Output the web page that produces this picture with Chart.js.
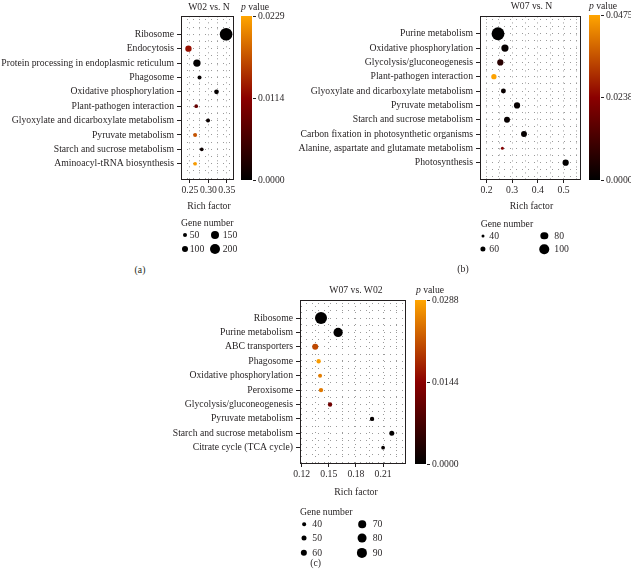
<!DOCTYPE html>
<html>
<head>
<meta charset="utf-8">
<script src="https://cdn.jsdelivr.net/npm/chart.js@4.4.0/dist/chart.umd.min.js"></script>
<style>
    body { margin: 0; background: #fff; width: 631px; height: 579px; position: relative; overflow: hidden; font-family: 'Liberation Serif', 'Times New Roman', serif; color: #231f20; }
    canvas { position: absolute; }
    .t { position: absolute; font-size: 9.7px; line-height: 1; white-space: nowrap; }
    .c { transform: translate(-50%, -50%); }
    .l { transform: translate(0, -50%); }
    .cbar { position: absolute; background: linear-gradient(to top, #000000, #8b0000, #ffa500); }
    .tk { position: absolute; height: 1px; width: 3px; background: #231f20; }
    .dot { position: absolute; border-radius: 50%; background: #000; transform: translate(-50%, -50%); }
</style>
</head>
<body>
<canvas id="chartA" width="240" height="200" style="left:0px;top:10px"></canvas>
<canvas id="chartB" width="297" height="200" style="left:290px;top:10px"></canvas>
<canvas id="chartC" width="252" height="204" style="left:160px;top:290px"></canvas>
<script>
// (a) W02 vs. N
const pathwaysA = ['Ribosome', 'Endocytosis', 'Protein processing in endoplasmic reticulum', 'Phagosome',
    'Oxidative phosphorylation', 'Plant-pathogen interaction', 'Glyoxylate and dicarboxylate metabolism',
    'Pyruvate metabolism', 'Starch and sucrose metabolism', 'Aminoacyl-tRNA biosynthesis'];
const richA = [0.348, 0.246, 0.269, 0.276, 0.322, 0.267, 0.299, 0.264, 0.282, 0.264];
const genesA = [265, 108, 133, 50, 67, 42, 50, 50, 42, 42];
const pvalA = [0.0001, 0.0125, 0.0002, 0.0004, 0.0003, 0.0082, 0.0008, 0.0172, 0.0010, 0.0222];
const xTicksA = [0.25, 0.30, 0.35];
const xLabelsA = ['0.25', '0.30', '0.35'];
const pTicksA = [0, 0.0114, 0.0229];
const pLabelsA = ['0.0000', '0.0114', '0.0229'];
const geneLegendA = [50, 100, 150, 200];

// (b) W07 vs. N
const pathwaysB = ['Purine metabolism', 'Oxidative phosphorylation', 'Glycolysis/gluconeogenesis',
    'Plant-pathogen interaction', 'Glyoxylate and dicarboxylate metabolism', 'Pyruvate metabolism',
    'Starch and sucrose metabolism', 'Carbon fixation in photosynthetic organisms',
    'Alanine, aspartate and glutamate metabolism', 'Photosynthesis'];
const richB = [0.245, 0.272, 0.254, 0.229, 0.266, 0.319, 0.280, 0.346, 0.262, 0.508];
const genesB = [131, 79, 70, 61, 58, 70, 67, 67, 40, 70];
const pvalB = [0.0001, 0.0010, 0.0068, 0.0470, 0.0015, 0.0008, 0.0012, 0.0009, 0.0220, 0.0004];
const xTicksB = [0.2, 0.3, 0.4, 0.5];
const xLabelsB = ['0.2', '0.3', '0.4', '0.5'];
const pTicksB = [0, 0.0238, 0.0475];
const pLabelsB = ['0.0000', '0.0238', '0.0475'];
const geneLegendB = [40, 60, 80, 100];

// (c) W07 vs. W02
const pathwaysC = ['Ribosome', 'Purine metabolism', 'ABC transporters', 'Phagosome', 'Oxidative phosphorylation',
    'Peroxisome', 'Glycolysis/gluconeogenesis', 'Pyruvate metabolism', 'Starch and sucrose metabolism',
    'Citrate cycle (TCA cycle)'];
const richC = [0.1414, 0.1603, 0.135, 0.1388, 0.1404, 0.1414, 0.1514, 0.1978, 0.2196, 0.210];
const genesC = [104, 83, 58, 45, 42, 45, 45, 45, 50, 40];
const pvalC = [0.0001, 0.0002, 0.0207, 0.0280, 0.0253, 0.0250, 0.0115, 0.0005, 0.0003, 0.0006];
const xTicksC = [0.12, 0.15, 0.18, 0.21];
const xLabelsC = ['0.12', '0.15', '0.18', '0.21'];
const pTicksC = [0, 0.0144, 0.0288];
const pLabelsC = ['0.0000', '0.0144', '0.0288'];
const geneLegendC = [40, 50, 60, 70, 80, 90];

const SERIF = "'Liberation Serif', 'Times New Roman', serif";
const INK = '#231f20';
const GRID = '#9a9a9a';
const FONT_SIZE = 9.7;

// black -> darkred -> orange
const colorStops = [[0, 0, 0], [139, 0, 0], [255, 165, 0]];
function pColor(t) {
    t = Math.max(0, Math.min(1, t));
    const s = t * 2;
    const i = Math.min(1, Math.floor(s));
    const f = s - i;
    const a = colorStops[i], b = colorStops[i + 1];
    return 'rgb(' + a.map((v, k) => Math.round(v + (b[k] - v) * f)).join(',') + ')';
}

function sizeScale(n0, d0, n1, d1) {
    return n => d0 + (d1 - d0) * (n - n0) / (n1 - n0);
}

function gridSteps(min, max, step) {
    const out = [];
    for (let k = Math.ceil(min / step - 1e-9); k * step <= max + 1e-9; k++) out.push(+(k * step).toFixed(6));
    return out;
}

const framePlugin = {
    id: 'frame',
    afterDraw(chart) {
        const a = chart.chartArea;
        const ctx = chart.ctx;
        ctx.save();
        ctx.strokeStyle = INK;
        ctx.lineWidth = 1;
        ctx.strokeRect(Math.round(a.left) + 0.5, Math.round(a.top) + 0.5, Math.round(a.right - a.left) - 1, Math.round(a.bottom - a.top) - 1);
        ctx.restore();
    }
};

function addText(html, x, y, cls) {
    const el = document.createElement('div');
    el.className = 't ' + cls;
    el.style.left = x + 'px';
    el.style.top = y + 'px';
    el.innerHTML = html;
    document.body.appendChild(el);
}

function drawPanel(p) {
    const n = p.pathways.length;
    const size = p.size;
    const minor = (p.xTicks[1] - p.xTicks[0]) / 2;
    const isMajor = v => p.xTicks.some(t => Math.abs(t - v) < 1e-6);
    const isRow = v => Math.abs(v - Math.round(v)) < 1e-6 && v >= 1 && v <= n;

    new Chart(document.getElementById(p.id), {
        type: 'bubble',
        data: {
            datasets: [{
                data: p.pathways.map((name, i) => ({ x: p.rich[i], y: n - i, r: size(p.genes[i]) / 2 })),
                backgroundColor: p.pvals.map(v => pColor(v / p.pMax)),
                borderWidth: 0,
                hoverBorderWidth: 0,
                clip: false
            }]
        },
        options: {
            responsive: false,
            animation: false,
            devicePixelRatio: 1,
            events: [],
            layout: { padding: p.pad },
            plugins: { legend: { display: false }, tooltip: { enabled: false } },
            scales: {
                x: {
                    type: 'linear',
                    min: p.xMin,
                    max: p.xMax,
                    afterBuildTicks: s => { s.ticks = gridSteps(p.xMin, p.xMax, minor).map(v => ({ value: v })); },
                    afterFit: s => { s.height = 30; s.paddingLeft = 0; s.paddingRight = 0; },
                    ticks: {
                        autoSkip: false,
                        maxRotation: 0,
                        padding: 2,
                        color: INK,
                        font: { family: SERIF, size: FONT_SIZE },
                        callback: v => {
                            const k = p.xTicks.findIndex(t => Math.abs(t - v) < 1e-6);
                            return k < 0 ? '' : p.xLabels[k];
                        }
                    },
                    grid: { color: GRID, tickLength: 3, tickColor: c => isMajor(c.tick.value) ? INK : 'rgba(0,0,0,0)' },
                    border: { display: false, dash: [1, 5] }
                },
                y: {
                    type: 'linear',
                    min: p.yMin,
                    max: p.yMax,
                    afterBuildTicks: s => { s.ticks = gridSteps(p.yMin, p.yMax, 0.5).map(v => ({ value: v })); },
                    afterFit: s => { s.width = p.yWidth; s.paddingTop = 0; s.paddingBottom = 0; },
                    ticks: {
                        autoSkip: false,
                        padding: 3,
                        color: INK,
                        font: { family: SERIF, size: FONT_SIZE },
                        callback: v => isRow(v) ? p.pathways[n - Math.round(v)] : ''
                    },
                    grid: { color: GRID, tickLength: 4, tickColor: c => isRow(c.tick.value) ? INK : 'rgba(0,0,0,0)' },
                    border: { display: false, dash: [1, 5] }
                }
            }
        },
        plugins: [framePlugin]
    });

    // titles
    addText(p.title, p.titleX, p.titleY, 'c');
    addText('<i>p</i> value', p.pX, p.titleY, 'c');
    addText('Rich factor', p.titleX, p.richY, 'c');

    // colour bar
    const bar = document.createElement('div');
    bar.className = 'cbar';
    Object.assign(bar.style, { left: p.bar.x + 'px', top: p.bar.top + 'px', width: p.bar.w + 'px', height: (p.bar.bottom - p.bar.top) + 'px' });
    document.body.appendChild(bar);
    p.pTicks.forEach((v, i) => {
        const y = p.bar.bottom - (p.bar.bottom - p.bar.top) * v / p.pMax;
        const tk = document.createElement('div');
        tk.className = 'tk';
        Object.assign(tk.style, { left: (p.bar.x + p.bar.w + 1) + 'px', top: Math.round(y - 0.5) + 'px' });
        document.body.appendChild(tk);
        addText(p.pLabels[i], p.bar.x + p.bar.w + 6, y, 'l');
    });

    // gene number legend
    addText('Gene number', p.leg.x, p.leg.titleY, 'l');
    p.geneLegend.forEach((g, i) => {
        const col = Math.floor(i / p.leg.rows.length);
        const row = i % p.leg.rows.length;
        const d = size(g);
        const dot = document.createElement('div');
        dot.className = 'dot';
        Object.assign(dot.style, { left: p.leg.dotX[col] + 'px', top: p.leg.rows[row] + 'px', width: d + 'px', height: d + 'px' });
        document.body.appendChild(dot);
        addText(String(g), p.leg.textX[col], p.leg.rows[row], 'l');
    });

    addText(p.tag, p.tagX, p.tagY, 'c');
}

drawPanel({
    id: 'chartA', pathways: pathwaysA, rich: richA, genes: genesA, pvals: pvalA, pMax: 0.0229,
    xTicks: xTicksA, xLabels: xLabelsA, pTicks: pTicksA, pLabels: pLabelsA, geneLegend: geneLegendA,
    size: sizeScale(50, 4, 200, 10),
    xMin: 0.2258, xMax: 0.3686, yMin: -0.13, yMax: 11.25, yWidth: 181, pad: { top: 6, right: 3, left: 0, bottom: 0 },
    title: 'W02 vs. N', titleX: 209, titleY: 7, pX: 255, richY: 205.5,
    bar: { x: 241, w: 11, top: 16, bottom: 180 },
    leg: { x: 181, titleY: 222.5, rows: [235, 249], dotX: [184.7, 215], textX: [189.7, 222.7] },
    tag: '(a)', tagX: 140, tagY: 270
});

drawPanel({
    id: 'chartB', pathways: pathwaysB, rich: richB, genes: genesB, pvals: pvalB, pMax: 0.0475,
    xTicks: xTicksB, xLabels: xLabelsB, pTicks: pTicksB, pLabels: pLabelsB, geneLegend: geneLegendB,
    size: sizeScale(40, 3, 100, 9.5),
    xMin: 0.175, xMax: 0.566, yMin: -0.21, yMax: 11.21, yWidth: 190, pad: { top: 5, right: 3, left: 0, bottom: 0 },
    title: 'W07 vs. N', titleX: 531.5, titleY: 6, pX: 603, richY: 206,
    bar: { x: 589, w: 11, top: 15, bottom: 180 },
    leg: { x: 480.7, titleY: 224, rows: [235.7, 249.3], dotX: [482.7, 544.3], textX: [489.3, 554.3] },
    tag: '(b)', tagX: 463, tagY: 269
});

drawPanel({
    id: 'chartC', pathways: pathwaysC, rich: richC, genes: genesC, pvals: pvalC, pMax: 0.0288,
    xTicks: xTicksC, xLabels: xLabelsC, pTicks: pTicksC, pLabels: pLabelsC, geneLegend: geneLegendC,
    size: sizeScale(40, 3.7, 90, 10.2),
    xMin: 0.1182, xMax: 0.2353, yMin: -0.13, yMax: 11.25, yWidth: 140, pad: { top: 10, right: 3, left: 0, bottom: 0 },
    title: 'W07 vs. W02', titleX: 356, titleY: 290, pX: 430, richY: 491.7,
    bar: { x: 415, w: 11, top: 300, bottom: 464 },
    leg: { x: 300, titleY: 511.7, rows: [524.3, 537.7, 552.7], dotX: [304, 362], textX: [312.3, 372.7] },
    tag: '(c)', tagX: 315.7, tagY: 563
});
</script>
</body>
</html>
